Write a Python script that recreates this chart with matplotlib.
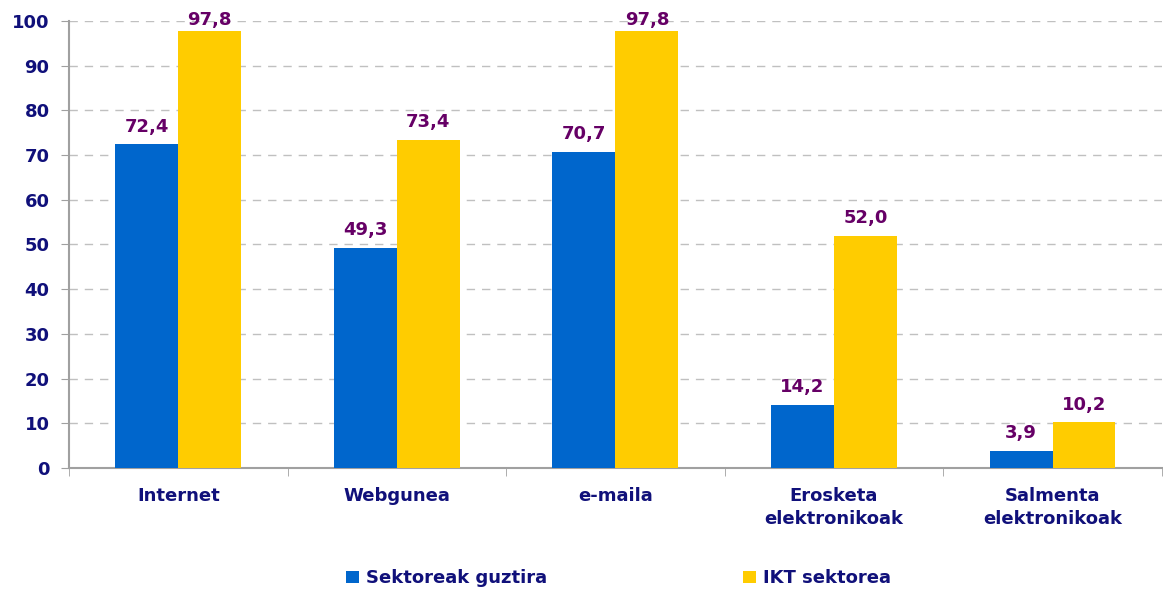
import matplotlib.pyplot as plt
import numpy as np

categories = ["Internet", "Webgunea", "e-maila", "Erosketa\nelektronikoak", "Salmenta\nelektronikoak"]
sektoreak = [72.4, 49.3, 70.7, 14.2, 3.9]
ikt = [97.8, 73.4, 97.8, 52.0, 10.2]
series_names = ["Sektoreak guztira", "IKT sektorea"]

navy = '#10107A'
purple = '#660066'
colors = ['#0066CC', '#FFCC00']

fig = plt.figure(figsize=(11.63, 5.90), dpi=100)
ax = fig.add_axes([0.0593, 0.2068, 0.9397, 0.7576])

x = np.arange(len(categories))
w = 0.288
for i, (vals, col, name) in enumerate(zip([sektoreak, ikt], colors, series_names)):
    pos = x + (i - 0.5) * w
    bars = ax.bar(pos, vals, width=w, color=col, label=name, zorder=3)
    for b, v in zip(bars, vals):
        # labels sit above the bar, kept inside the plot near the top
        ax.text(b.get_x() + b.get_width() / 2, min(v + 1.9, 98.3), f"{v:.1f}".replace('.', ','),
                ha='center', va='bottom', color=purple, fontsize=13, fontweight='bold')

ax.set_xlim(-0.5, len(categories) - 0.5)
ax.set_ylim(0, 100)
ax.set_yticks(np.arange(0, 101, 10))
ax.grid(axis='y', color='#C0C0C0', linestyle=(0, (6, 5)), linewidth=1, zorder=0)

ax.set_xticks(x)
ax.set_xticklabels(categories, linespacing=1.35)
ax.set_xticks(np.arange(-0.5, len(categories)), minor=True)
ax.tick_params(axis='x', which='major', length=0, pad=14)
ax.tick_params(axis='x', which='minor', length=6, color='#A0A0A0', direction='out')
ax.tick_params(axis='y', length=6, color='#A0A0A0', pad=8)
for lab in ax.get_xticklabels() + ax.get_yticklabels():
    lab.set_color(navy)
    lab.set_fontweight('bold')
    lab.set_fontsize(13)

for s in ['top', 'right']:
    ax.spines[s].set_visible(False)
for s in ['left', 'bottom']:
    ax.spines[s].set_color('#A0A0A0')
    ax.spines[s].set_linewidth(1.5)

leg = fig.legend(loc='center', bbox_to_anchor=(0.532, 0.02), ncol=2, frameon=False,
                 handlelength=0.7, handleheight=0.7, handletextpad=0.4,
                 columnspacing=10.85, prop={'weight': 'bold', 'size': 13})
for t in leg.get_texts():
    t.set_color(navy)

fig.savefig('out.png', dpi=100)
